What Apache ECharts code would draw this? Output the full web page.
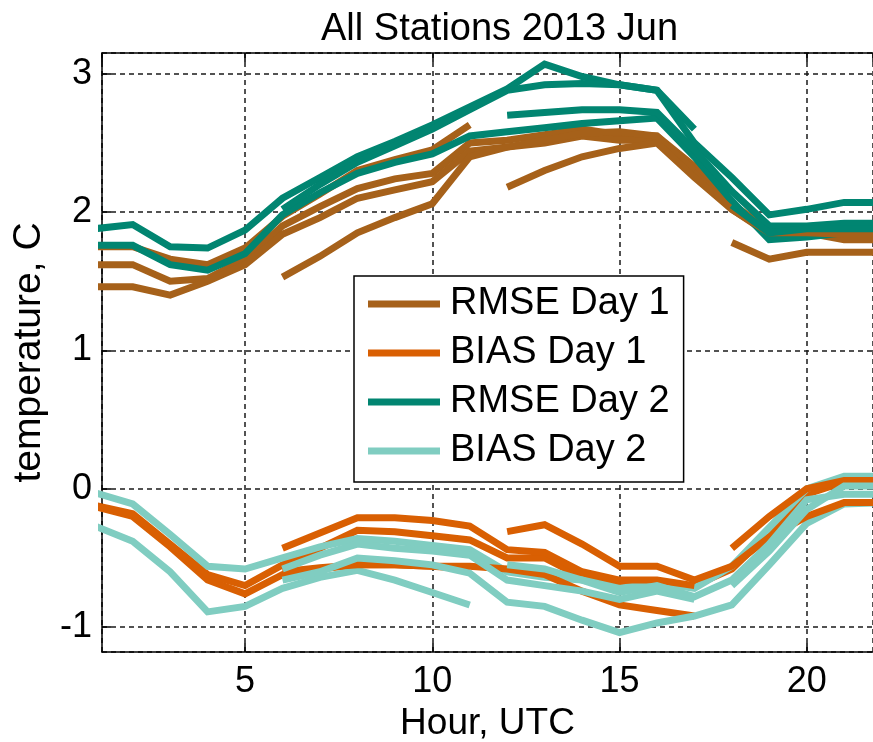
<!DOCTYPE html>
<html>
<head>
<meta charset="utf-8">
<script src="https://cdn.jsdelivr.net/npm/echarts@6/dist/echarts.min.js"></script>
<style>
  html, body { margin: 0; padding: 0; background: #fff; }
  #chart { width: 873px; height: 742px; }
</style>
</head>
<body>
<div id="chart"></div>
<script>
// Forecast hour (UTC) for every column of the arrays below
const hours = [1,2,3,4,5,6,7,8,9,10,11,12,13,14,15,16,17,18,19,20,21,22];
const xTicks = [5, 10, 15, 20];
const yTicks = [-1, 0, 1, 2, 3];

// RMSE Day 1 (one array per run, null where the run has no value)
const rmseDay1A = [1.75,1.75,1.66,1.62,1.74,1.97,2.13,2.30,2.38,2.45,2.63,null,null,null,null,null,null,null,null,null,null,null];
const rmseDay1B = [1.62,1.62,1.50,1.52,1.66,1.90,2.04,2.17,2.24,2.28,2.50,2.52,2.56,2.60,2.56,2.55,2.33,2.06,1.87,1.86,1.82,1.82];
const rmseDay1C = [1.46,1.46,1.40,1.50,1.62,1.84,1.96,2.10,2.16,2.22,2.44,2.47,2.50,2.55,2.52,2.52,2.28,2.02,1.84,1.85,1.80,1.80];
const rmseDay1D = [null,null,null,null,null,1.53,1.68,1.85,1.96,2.06,2.40,2.47,2.52,2.57,2.58,2.55,2.30,null,null,null,null,null];
const rmseDay1E = [null,null,null,null,null,null,null,null,null,null,null,2.18,2.30,2.40,2.46,2.50,2.25,2.02,1.85,1.85,1.84,1.84];
const rmseDay1F = [null,null,null,null,null,null,null,null,null,null,null,null,null,null,null,null,null,1.78,1.66,1.71,1.71,1.71];

// BIAS Day 1
const biasDay1A = [-0.13,-0.20,-0.42,-0.66,-0.76,-0.62,-0.58,-0.55,-0.55,-0.56,-0.58,null,null,null,null,null,null,null,null,null,null,null];
const biasDay1B = [-0.12,-0.18,-0.40,-0.62,-0.70,-0.55,-0.43,-0.30,-0.31,-0.34,-0.37,-0.50,-0.50,-0.64,-0.70,-0.70,-0.70,-0.58,-0.32,-0.04,0.05,0.06];
const biasDay1C = [null,null,null,null,null,-0.43,-0.32,-0.21,-0.21,-0.23,-0.27,-0.44,-0.46,-0.60,-0.66,-0.66,-0.70,null,null,null,null,null];
const biasDay1D = [null,null,null,null,null,-0.60,-0.57,-0.55,-0.55,-0.56,-0.56,-0.58,-0.62,-0.74,-0.84,-0.88,-0.92,null,null,null,null,null];
const biasDay1E = [null,null,null,null,null,null,null,null,null,null,null,-0.31,-0.26,-0.40,-0.56,-0.56,-0.66,-0.56,-0.35,-0.20,-0.10,-0.10];
const biasDay1F = [null,null,null,null,null,null,null,null,null,null,null,null,null,null,null,null,null,-0.43,-0.20,0.00,0.06,0.06];

// RMSE Day 2
const rmseDay2A = [1.88,1.91,1.75,1.74,1.87,2.10,2.25,2.40,2.51,2.63,2.76,2.89,3.07,2.98,2.92,2.88,2.60,null,null,null,null,null];
const rmseDay2B = [1.76,1.76,1.62,1.58,1.70,1.98,2.14,2.28,2.36,2.42,2.55,2.58,2.61,2.64,2.66,2.68,2.40,2.08,1.80,1.82,1.85,1.85];
const rmseDay2C = [null,null,null,null,null,2.02,2.20,2.36,2.48,2.60,2.74,2.88,2.92,2.93,2.92,2.88,2.50,2.25,1.98,2.02,2.07,2.07];
const rmseDay2D = [null,null,null,null,null,null,null,null,null,null,null,2.70,2.72,2.74,2.74,2.72,2.45,2.15,1.90,1.90,1.92,1.92];
const rmseDay2E = [null,null,null,null,null,null,null,null,null,null,null,null,null,null,null,null,null,2.05,1.85,1.88,1.88,1.88];

// BIAS Day 2
const biasDay2A = [-0.03,-0.11,-0.33,-0.56,-0.58,-0.50,-0.42,-0.36,-0.38,-0.41,-0.44,-0.60,-0.64,-0.66,-0.72,-0.68,-0.72,-0.56,-0.28,0.00,0.09,0.09];
const biasDay2B = [-0.27,-0.38,-0.60,-0.89,-0.85,-0.72,-0.64,-0.59,-0.66,-0.75,-0.84,null,null,null,null,null,null,null,null,null,null,null];
const biasDay2C = [null,null,null,null,null,-0.58,-0.48,-0.40,-0.43,-0.45,-0.48,-0.66,-0.70,-0.74,-0.80,-0.74,-0.80,null,null,null,null,null];
const biasDay2D = [null,null,null,null,null,-0.66,-0.60,-0.50,-0.52,-0.55,-0.61,-0.82,-0.85,-0.95,-1.04,-0.97,-0.92,-0.84,-0.55,-0.25,-0.11,-0.10];
const biasDay2E = [null,null,null,null,null,null,null,null,null,null,null,-0.55,-0.58,-0.66,-0.75,-0.70,-0.78,-0.66,-0.40,-0.08,-0.04,-0.04];
const biasDay2F = [null,null,null,null,null,null,null,null,null,null,null,null,null,null,null,null,null,-0.70,-0.45,-0.15,0.02,0.02];

const COLORS = {
  'RMSE Day 1': '#a6611a',
  'BIAS Day 1': '#d95f02',
  'RMSE Day 2': '#018571',
  'BIAS Day 2': '#80cdc1'
};

const FONT = '"Liberation Sans", Arial, Helvetica, sans-serif';

function run(name, values) {
  const color = COLORS[name];
  return {
    type: 'line',
    name: name,
    data: hours.map((h, i) => [h, values[i]]).filter(p => p[1] !== null),
    showSymbol: false,
    symbol: 'none',
    silent: true,
    animation: false,
    z: 3,
    itemStyle: { color: color },
    lineStyle: { color: color, width: 7, cap: 'butt', join: 'miter' }
  };
}

// Runs plotted in start-hour order, four quantities per run
const series = [
  run('RMSE Day 1', rmseDay1A), run('RMSE Day 1', rmseDay1B), run('RMSE Day 1', rmseDay1C),
  run('BIAS Day 1', biasDay1A), run('BIAS Day 1', biasDay1B),
  run('RMSE Day 2', rmseDay2A), run('RMSE Day 2', rmseDay2B),
  run('BIAS Day 2', biasDay2A), run('BIAS Day 2', biasDay2B),

  run('RMSE Day 1', rmseDay1D),
  run('BIAS Day 1', biasDay1C), run('BIAS Day 1', biasDay1D),
  run('RMSE Day 2', rmseDay2C),
  run('BIAS Day 2', biasDay2C), run('BIAS Day 2', biasDay2D),

  run('RMSE Day 1', rmseDay1E),
  run('BIAS Day 1', biasDay1E),
  run('RMSE Day 2', rmseDay2D),
  run('BIAS Day 2', biasDay2E),

  run('RMSE Day 1', rmseDay1F),
  run('BIAS Day 1', biasDay1F),
  run('RMSE Day 2', rmseDay2E),
  run('BIAS Day 2', biasDay2F)
];

const chart = echarts.init(document.getElementById('chart'), null, { renderer: 'canvas' });

const axisLineStyle = { color: '#000', width: 1.5 };
const gridLineStyle = { color: '#1a1a1a', width: 1.5, type: [5, 4] };

chart.setOption({
  backgroundColor: '#fff',
  animation: false,
  title: {
    text: 'All Stations 2013 Jun',
    left: 316,
    top: 6,
    textStyle: { fontFamily: FONT, fontSize: 38, fontWeight: 'normal', color: '#000' }
  },
  legend: {
    orient: 'vertical',
    left: 354,
    top: 276,
    z: 20,
    padding: [8, 14, 11, 14],
    itemWidth: 72,
    itemHeight: 7,
    itemGap: 9,
    icon: 'rect',
    selectedMode: false,
    backgroundColor: '#fff',
    borderColor: '#000',
    borderWidth: 1.5,
    textStyle: { fontFamily: FONT, fontSize: 38, lineHeight: 40, color: '#000', padding: [0, 0, 0, 5] },
    data: ['RMSE Day 1', 'BIAS Day 1', 'RMSE Day 2', 'BIAS Day 2']
  },
  grid: { left: 102, right: 0, top: 53, bottom: 90, containLabel: false, outerBoundsMode: 'none' },
  xAxis: [
    {
      type: 'value',
      min: 1.18,
      max: 21.77,
      minInterval: 5,
      maxInterval: 5,
      name: 'Hour, UTC',
      nameLocation: 'middle',
      nameGap: 53,
      nameTextStyle: { fontFamily: FONT, fontSize: 37, color: '#000' },
      axisLine: { show: true, onZero: false, lineStyle: axisLineStyle },
      axisTick: { show: true, inside: true, length: 9, lineStyle: axisLineStyle },
      axisLabel: {
        fontFamily: FONT, fontSize: 36, color: '#000', margin: 12,
        showMinLabel: false, showMaxLabel: false,
        formatter: v => (xTicks.includes(v) ? String(v) : '')
      },
      splitLine: { show: true, lineStyle: gridLineStyle }
    },
    {
      type: 'value',
      position: 'top',
      min: 1.18,
      max: 21.77,
      minInterval: 5,
      maxInterval: 5,
      axisLine: { show: true, onZero: false, lineStyle: axisLineStyle },
      axisTick: { show: true, inside: true, length: 9, lineStyle: axisLineStyle },
      axisLabel: { show: false },
      splitLine: { show: false }
    }
  ],
  yAxis: {
    type: 'value',
    min: -1.18,
    max: 3.15,
    minInterval: 1,
    maxInterval: 1,
    name: 'temperature, C',
    nameLocation: 'middle',
    nameGap: 50,
    nameTextStyle: { fontFamily: FONT, fontSize: 39, color: '#000' },
    axisLine: { show: true, onZero: false, lineStyle: axisLineStyle },
    axisTick: { show: true, inside: true, length: 9, lineStyle: axisLineStyle },
    axisLabel: {
      fontFamily: FONT, fontSize: 36, color: '#000', margin: 10,
      showMinLabel: false, showMaxLabel: false,
      formatter: v => (yTicks.includes(v) ? String(v) : '')
    },
    splitLine: { show: true, lineStyle: gridLineStyle }
  },
  series: series
});
</script>
</body>
</html>
